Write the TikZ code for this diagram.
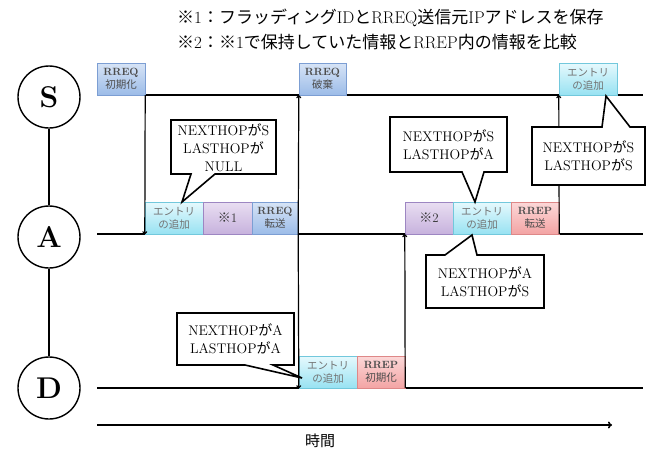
\documentclass[tikz,border=0pt]{standalone}
\usepackage{fontspec}
\newfontfamily\cjk{Noto Sans CJK JP}
\newcommand\J[1]{{\cjk #1}}
\usetikzlibrary{arrows.meta}
\definecolor{rqT}{HTML}{D7E4F6}\definecolor{rqB}{HTML}{9CBCE8}\definecolor{rqD}{HTML}{7C9ED3}
\definecolor{enT}{HTML}{E6F9FD}\definecolor{enB}{HTML}{98E2F2}\definecolor{enD}{HTML}{72C8DC}
\definecolor{ntT}{HTML}{E9DEF2}\definecolor{ntB}{HTML}{C7B2DD}\definecolor{ntD}{HTML}{9D86C2}
\definecolor{rpT}{HTML}{FCD8D8}\definecolor{rpB}{HTML}{F3A4A4}\definecolor{rpD}{HTML}{DE8888}
\tikzset{
  ev/.style={draw, minimum height=32pt, inner sep=0pt, align=center,
    font=\fontsize{10.5}{13}\selectfont, text=black!70},
  rreq/.style={ev, draw=rqD, top color=rqT, bottom color=rqB},
  ent/.style={ev, draw=enD, top color=enT, bottom color=enB, text=black!55},
  note/.style={ev, draw=ntD, top color=ntT, bottom color=ntB, font=\fontsize{13}{15}\selectfont, text=black!80},
  rrep/.style={ev, draw=rpD, top color=rpT, bottom color=rpB},
  axis/.style={line width=1.8pt},
  conn/.style={line width=1.2pt, -{To[length=3pt,width=5pt]}},
  actor/.style={circle, draw, line width=1.4pt, minimum size=62pt, inner sep=0pt,
    font=\bfseries\fontsize{30}{30}\selectfont},
  callout/.style={draw, fill=white, line width=1.6pt, line join=miter},
  ctext/.style={align=center, font=\fontsize{14}{18}\selectfont, inner sep=0pt},
}
\begin{document}
\begin{tikzpicture}[x=1pt,y=-1pt]
\useasboundingbox (0,0) rectangle (653,453);
% header
\node[anchor=west, inner sep=0pt, font=\fontsize{17}{19}\selectfont] (h1) at (177,18)
  {\J{※}1\J{：フラッディング}ID\J{と}RREQ\J{送信元}IP\J{アドレスを保存}};
\node[anchor=west, inner sep=0pt, font=\fontsize{17}{19}\selectfont] (h2) at (177,42)
  {\J{※}2\J{：※}1\J{で保持していた情報と}RREP\J{内の情報を比較}};
% actors
\node[actor] (S) at (49,97) {S};
\node[actor] (A) at (49,237) {A};
\node[actor] (D) at (49,388) {D};
\draw[line width=1.4pt] (S) -- (A) (A) -- (D);
% time lines
\draw[axis] (97,95) -- (643,95);
\draw[axis] (97,234) -- (643,234);
\draw[axis] (97,388) -- (643,388);
\draw[line width=1.6pt, -{To[length=4pt,width=7pt]}] (97,425) -- (612,425);
\node[font=\cjk\fontsize{15}{17}\selectfont] (t) at (320,441) {時間};
% S boxes
\node[rreq, minimum width=48pt] (s1) at (121,79) {\textbf{RREQ}\\\J{初期化}};
\node[rreq, minimum width=47pt] (s2) at (322.5,79) {\textbf{RREQ}\\\J{破棄}};
\node[ent, minimum width=58pt] (s3) at (588,79) {\J{エントリ}\\\J{の追加}};
% A boxes
\node[ent, minimum width=58pt] (a1) at (174,218) {\J{エントリ}\\\J{の追加}};
\node[note, minimum width=49pt] (a2) at (227.5,218) {\J{※}1};
\node[rreq, minimum width=46pt] (a3) at (275,218) {\textbf{RREQ}\\\J{転送}};
\node[note, minimum width=48pt] (a4) at (429,218) {\J{※}2};
\node[ent, minimum width=58pt] (a5) at (482,218) {\J{エントリ}\\\J{の追加}};
\node[rrep, minimum width=48pt] (a6) at (535,218) {\textbf{RREP}\\\J{転送}};
% D boxes
\node[ent, minimum width=58pt] (d1) at (328,372) {\J{エントリ}\\\J{の追加}};
\node[rrep, minimum width=48pt] (d2) at (381,372) {\textbf{RREP}\\\J{初期化}};
% connectors
\draw[conn] (s1.south east) -- (a1.south west);
\draw[conn] (a3.south east) -- (s2.south west);
\draw[conn] (a3.south east) -- (d1.south west);
\draw[conn] (d2.south east) -- (a4.south west);
\draw[conn] (a6.south east) -- (s3.south west);
% callouts
\draw[callout] (171,120) -- (276,120) -- (276,174) -- (215,174) -- (182,202) -- (191,174) -- (171,174) -- cycle;
\node[ctext] (c1) at (223.5,148) {NEXTHOP\J{が}S\\LASTHOP\J{が}\\NULL};
\draw[callout] (390,117) -- (507,117) -- (507,172) -- (484,172) -- (475,202) -- (462,172) -- (390,172) -- cycle;
\node[ctext] (c2) at (448.5,144.5) {NEXTHOP\J{が}S\\LASTHOP\J{が}A};
\draw[callout] (532,127) -- (602,127) -- (606,96) -- (630,127) -- (645,127) -- (645,185) -- (532,185) -- cycle;
\node[ctext] (c3) at (588.5,156) {NEXTHOP\J{が}S\\LASTHOP\J{が}S};
\draw[callout] (426,255) -- (445,255) -- (472,235) -- (477,255) -- (544,255) -- (544,308) -- (426,308) -- cycle;
\node[ctext] (c4) at (485,281.5) {NEXTHOP\J{が}A\\LASTHOP\J{が}S};
\draw[callout] (177,313) -- (294,313) -- (294,365) -- (273,365) -- (302,378) -- (245,365) -- (177,365) -- cycle;
\node[ctext] (c5) at (235.5,339) {NEXTHOP\J{が}A\\LASTHOP\J{が}A};
\end{tikzpicture}
\end{document}
